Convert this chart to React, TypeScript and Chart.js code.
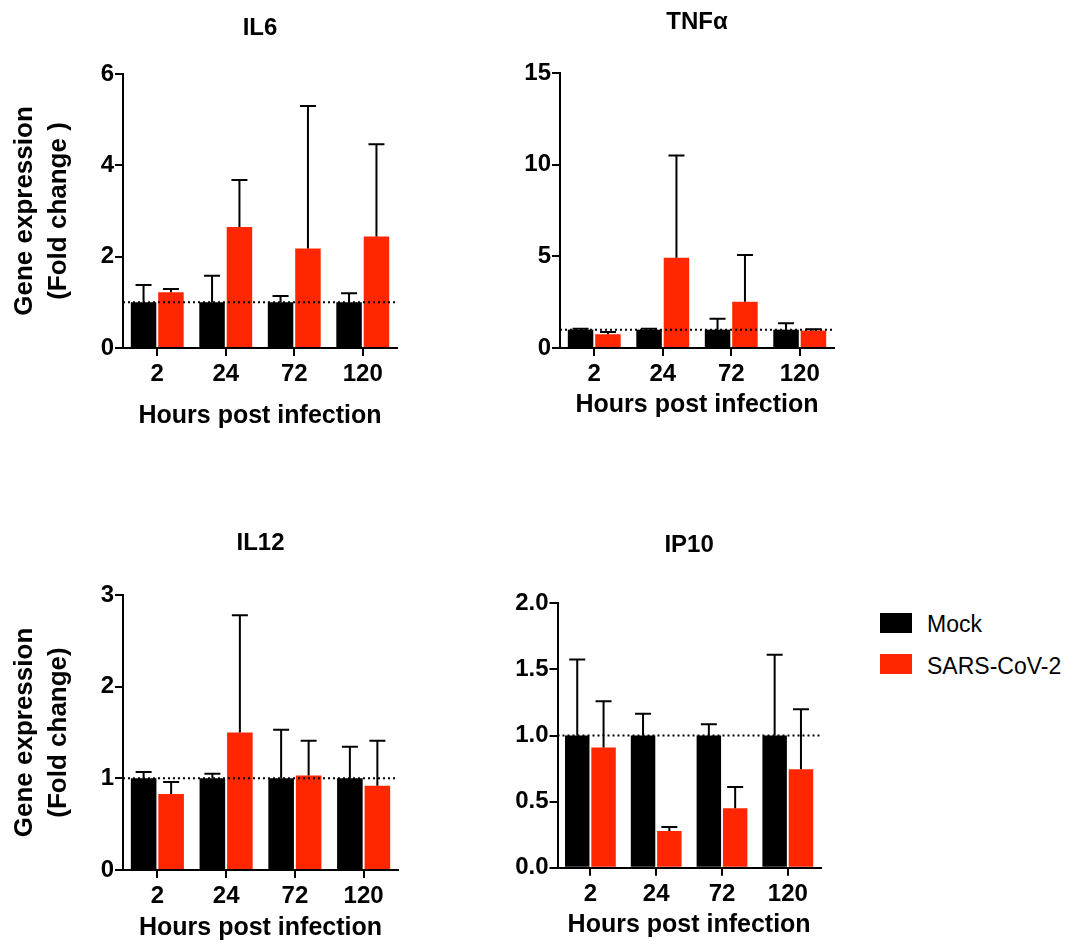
import React, { useEffect, useRef } from 'react';
import { Chart, registerables } from 'chart.js';

Chart.register(...registerables);

// ---------------- data ----------------
const HOURS = ['2', '24', '72', '120'];
const SERIES_NAMES = ['Mock', 'SARS-CoV-2'];
const X_TITLE = 'Hours post infection';
const REFERENCE_LEVEL = 1;

const IL6_MOCK = [1, 1, 1, 1];
const IL6_MOCK_SD = [0.38, 0.58, 0.14, 0.2];
const IL6_SARS = [1.22, 2.65, 2.18, 2.44];
const IL6_SARS_SD = [0.07, 1.03, 3.12, 2.02];
const IL6_Y_TICKS = [0, 2, 4, 6];
const IL6_Y_TICK_LABELS = ['0', '2', '4', '6'];

const TNF_MOCK = [1, 1, 1, 1];
const TNF_MOCK_SD = [0.05, 0.05, 0.6, 0.35];
const TNF_SARS = [0.75, 4.92, 2.52, 0.95];
const TNF_SARS_SD = [0.12, 5.58, 2.55, 0.07];
const TNF_Y_TICKS = [0, 5, 10, 15];
const TNF_Y_TICK_LABELS = ['0', '5', '10', '15'];

const IL12_MOCK = [1, 1, 1, 1];
const IL12_MOCK_SD = [0.07, 0.05, 0.53, 0.345];
const IL12_SARS = [0.83, 1.5, 1.03, 0.92];
const IL12_SARS_SD = [0.13, 1.28, 0.38, 0.49];
const IL12_Y_TICKS = [0, 1, 2, 3];
const IL12_Y_TICK_LABELS = ['0', '1', '2', '3'];

const IP10_MOCK = [1, 1, 1, 1];
const IP10_MOCK_SD = [0.575, 0.165, 0.085, 0.61];
const IP10_SARS = [0.91, 0.277, 0.45, 0.744];
const IP10_SARS_SD = [0.35, 0.03, 0.16, 0.455];
const IP10_Y_TICKS = [0, 0.5, 1, 1.5, 2];
const IP10_Y_TICK_LABELS = ['0.0', '0.5', '1.0', '1.5', '2.0'];

// ---------------- style ----------------
const MOCK_COLOR = '#000000';
const SARS_COLOR = '#ff2600';
const FONT = "'Liberation Sans', Arial, Helvetica, sans-serif";

type PanelProps = {
  title: string;
  mock: number[];
  mockSd: number[];
  sars: number[];
  sarsSd: number[];
  yTicks: number[];
  yTickLabels: string[];
  yTitle?: string[];
  left: number;
  top: number;
  width: number;
  height: number;
  axisWidth: number;
  padRight: number;
  titleTop: number;
  titleBottom: number;
  xAxisHeight: number;
};

function Panel(p: PanelProps) {
  const ref = useRef<HTMLCanvasElement>(null);

  useEffect(() => {
    const canvas = ref.current;
    if (!canvas) return;
    const sds = [p.mockSd, p.sarsSd];

    const overlay = {
      id: 'refLineAndErrors',
      afterDatasetsDraw(chart: any) {
        const { ctx, chartArea, scales } = chart;
        const y = scales.y;
        ctx.save();
        // dotted reference line
        const yRef = y.getPixelForValue(REFERENCE_LEVEL);
        ctx.strokeStyle = '#000';
        ctx.lineWidth = 2;
        ctx.setLineDash([2, 3]);
        ctx.beginPath();
        ctx.moveTo(chartArea.left, yRef);
        ctx.lineTo(chartArea.right, yRef);
        ctx.stroke();
        ctx.setLineDash([]);
        // error bars (upper only)
        const cap = 16;
        chart.data.datasets.forEach((ds: any, di: number) => {
          const meta = chart.getDatasetMeta(di);
          meta.data.forEach((bar: any, i: number) => {
            const v = ds.data[i] as number;
            const sd = sds[di][i];
            const yTop = y.getPixelForValue(v + sd);
            const yBase = y.getPixelForValue(v);
            ctx.beginPath();
            ctx.moveTo(bar.x, yBase);
            ctx.lineTo(bar.x, yTop);
            ctx.moveTo(bar.x - cap / 2, yTop);
            ctx.lineTo(bar.x + cap / 2, yTop);
            ctx.stroke();
          });
        });
        ctx.restore();
      },
    };

    const chart = new Chart(canvas, {
      type: 'bar',
      data: {
        labels: HOURS,
        datasets: [
          {
            label: SERIES_NAMES[0],
            data: p.mock,
            backgroundColor: MOCK_COLOR,
            borderWidth: 0,
            categoryPercentage: 0.8,
            barPercentage: 0.93,
          },
          {
            label: SERIES_NAMES[1],
            data: p.sars,
            backgroundColor: SARS_COLOR,
            borderWidth: 0,
            categoryPercentage: 0.8,
            barPercentage: 0.93,
          },
        ],
      },
      options: {
        responsive: false,
        animation: false,
        devicePixelRatio: 1,
        events: [],
        layout: { padding: { left: 0, right: p.padRight, top: 0, bottom: 0 } },
        plugins: {
          legend: { display: false },
          tooltip: { enabled: false },
          title: {
            display: true,
            text: p.title,
            color: '#000',
            fullSize: false,
            font: { family: FONT, size: 24, weight: 'bold', lineHeight: 1.2 },
            padding: { top: p.titleTop, bottom: p.titleBottom },
          },
        },
        scales: {
          x: {
            type: 'category',
            offset: true,
            grid: {
              display: true,
              drawOnChartArea: false,
              drawTicks: true,
              tickLength: 8,
              color: '#000',
              lineWidth: 2,
              offset: false,
            },
            border: { display: true, color: '#000', width: 2, z: 1 },
            ticks: {
              color: '#000',
              padding: 4,
              maxRotation: 0,
              autoSkip: false,
              font: { family: FONT, size: 24, weight: 'bold', lineHeight: 1.2 },
            },
            title: {
              display: true,
              text: X_TITLE,
              color: '#000',
              padding: { top: 0, bottom: 0 },
              font: { family: FONT, size: 25, weight: 'bold', lineHeight: 1.2 },
            },
            afterFit: (s: any) => {
              s.height = p.xAxisHeight;
            },
          },
          y: {
            type: 'linear',
            min: p.yTicks[0],
            max: p.yTicks[p.yTicks.length - 1],
            afterBuildTicks: (s: any) => {
              s.ticks = p.yTicks.map((v) => ({ value: v }));
            },
            grid: {
              display: true,
              drawOnChartArea: false,
              drawTicks: true,
              tickLength: 8,
              color: '#000',
              lineWidth: 2,
            },
            border: { display: true, color: '#000', width: 2, z: 1 },
            ticks: {
              color: '#000',
              padding: 1,
              font: { family: FONT, size: 24, weight: 'bold', lineHeight: 1.2 },
              callback: (value: any) => {
                const i = p.yTicks.indexOf(Number(value));
                return i >= 0 ? p.yTickLabels[i] : '';
              },
            },
            title: {
              display: !!p.yTitle,
              text: p.yTitle || '',
              color: '#000',
              padding: { top: 8, bottom: 0 },
              font: { family: FONT, size: 26, weight: 'bold', lineHeight: 1.3 },
            },
            afterFit: (s: any) => {
              s.width = p.axisWidth;
            },
          },
        },
      } as any,
      plugins: [overlay],
    });

    return () => chart.destroy();
  }, []);

  return (
    <canvas
      ref={ref}
      width={p.width}
      height={p.height}
      style={{
        position: 'absolute',
        left: p.left,
        top: p.top,
        width: p.width,
        height: p.height,
        display: 'block',
      }}
    />
  );
}

function Legend() {
  const colors = [MOCK_COLOR, SARS_COLOR];
  const rows = [
    { box: 613, text: 610.5 },
    { box: 654, text: 653 },
  ];
  return (
    <>
      {SERIES_NAMES.map((name, i) => (
        <React.Fragment key={name}>
          <div
            style={{
              position: 'absolute',
              left: 880,
              top: rows[i].box,
              width: 32,
              height: 20,
              background: colors[i],
            }}
          />
          <div
            style={{
              position: 'absolute',
              left: 927,
              top: rows[i].text,
              fontFamily: FONT,
              fontSize: 23,
              lineHeight: '26px',
              color: '#000',
              whiteSpace: 'nowrap',
            }}
          >
            {name}
          </div>
        </React.Fragment>
      ))}
    </>
  );
}

export default function App() {
  return (
    <div
      style={{
        position: 'absolute',
        left: 0,
        top: 0,
        width: 1078,
        height: 947,
        background: '#fff',
        overflow: 'hidden',
      }}
    >
      <Panel
        title="IL6"
        mock={IL6_MOCK}
        mockSd={IL6_MOCK_SD}
        sars={IL6_SARS}
        sarsSd={IL6_SARS_SD}
        yTicks={IL6_Y_TICKS}
        yTickLabels={IL6_Y_TICK_LABELS}
        yTitle={['Gene expression', '(Fold change )']}
        left={0}
        top={0}
        width={440}
        height={431}
        axisWidth={123}
        padRight={43}
        titleTop={13.6}
        titleBottom={31.6}
        xAxisHeight={83}
      />
      <Panel
        title="TNFα"
        mock={TNF_MOCK}
        mockSd={TNF_MOCK_SD}
        sars={TNF_SARS}
        sarsSd={TNF_SARS_SD}
        yTicks={TNF_Y_TICKS}
        yTickLabels={TNF_Y_TICK_LABELS}
        left={480}
        top={0}
        width={400}
        height={420}
        axisWidth={80}
        padRight={46}
        titleTop={8.1}
        titleBottom={36.1}
        xAxisHeight={72}
      />
      <Panel
        title="IL12"
        mock={IL12_MOCK}
        mockSd={IL12_MOCK_SD}
        sars={IL12_SARS}
        sarsSd={IL12_SARS_SD}
        yTicks={IL12_Y_TICKS}
        yTickLabels={IL12_Y_TICK_LABELS}
        yTitle={['Gene expression', '(Fold change)']}
        left={0}
        top={480}
        width={440}
        height={463}
        axisWidth={123}
        padRight={42}
        titleTop={48.6}
        titleBottom={37.6}
        xAxisHeight={73}
      />
      <Panel
        title="IP10"
        mock={IP10_MOCK}
        mockSd={IP10_MOCK_SD}
        sars={IP10_SARS}
        sarsSd={IP10_SARS_SD}
        yTicks={IP10_Y_TICKS}
        yTickLabels={IP10_Y_TICK_LABELS}
        left={480}
        top={480}
        width={380}
        height={460}
        axisWidth={77.5}
        padRight={39.3}
        titleTop={50.6}
        titleBottom={43.9}
        xAxisHeight={72.3}
      />
      <Legend />
    </div>
  );
}
